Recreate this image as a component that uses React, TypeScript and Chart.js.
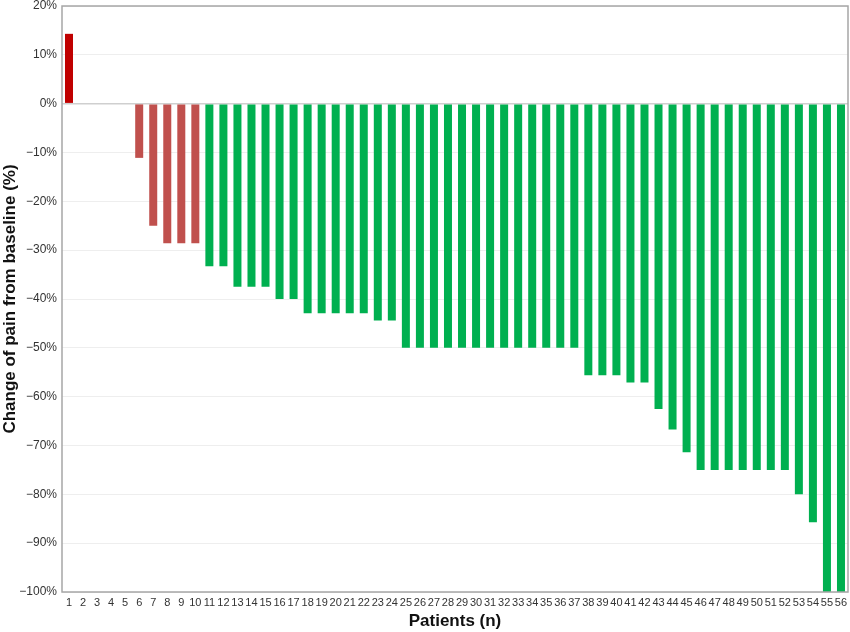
import React, { useEffect, useRef } from "react";
import { Chart, registerables } from "chart.js";

Chart.register(...registerables);

const patients: string[] = Array.from({ length: 56 }, (_, i) => String(i + 1));

const painChange: number[] = [
  14.3, 0, 0, 0, 0, -11.1, -25, -28.6, -28.6, -28.6,
  -33.3, -33.3, -37.5, -37.5, -37.5, -40, -40, -42.9, -42.9, -42.9,
  -42.9, -42.9, -44.4, -44.4, -50, -50, -50, -50, -50, -50,
  -50, -50, -50, -50, -50, -50, -50, -55.6, -55.6, -55.6,
  -57.1, -57.1, -62.5, -66.7, -71.4, -75, -75, -75, -75, -75,
  -75, -75, -80, -85.7, -100, -100,
];

const yMin = -100;
const yMax = 20;
const yStep = 10;

const colorIncrease = "#C00000";
const colorMinor = "#C0504D";
const colorResponse = "#00B050";

const barColors = painChange.map((v) =>
  v > 0 ? colorIncrease : v > -30 ? colorMinor : colorResponse
);

const frame = {
  id: "frame",
  afterDraw(chart: any) {
    const { ctx, chartArea: a } = chart;
    ctx.save();
    ctx.strokeStyle = "#a6a6a6";
    ctx.lineWidth = 1.5;
    ctx.strokeRect(a.left, a.top, a.right - a.left, a.bottom - a.top);
    ctx.restore();
  },
};

export default function App() {
  const ref = useRef<HTMLCanvasElement | null>(null);
  useEffect(() => {
    document.body.style.margin = "0";
    const chart = new Chart(ref.current as HTMLCanvasElement, {
      type: "bar",
      data: {
        labels: patients,
        datasets: [
          {
            data: painChange,
            backgroundColor: barColors,
            borderWidth: 0,
            categoryPercentage: 1,
            barPercentage: 0.57,
          },
        ],
      },
      options: {
        animation: false,
        responsive: false,
        maintainAspectRatio: false,
        layout: { padding: { top: 6, right: 2, left: 0, bottom: 0 } },
        plugins: { legend: { display: false }, tooltip: { enabled: false } },
        scales: {
          x: {
            grid: { display: false, drawTicks: false },
            border: { display: false },
            ticks: {
              autoSkip: false,
              maxRotation: 0,
              padding: 4,
              color: "#333",
              font: { family: "Liberation Sans", size: 11 },
            },
            title: {
              display: true,
              text: "Patients (n)",
              color: "#111",
              font: { family: "Liberation Sans", size: 17, weight: "bold" },
              padding: { top: 4, bottom: 0 },
            },
            afterFit(scale: any) {
              scale.height = 40;
              scale.paddingLeft = 0;
              scale.paddingRight = 0;
            },
          },
          y: {
            min: yMin,
            max: yMax,
            grid: {
              drawTicks: false,
              color: (c: any) => (c.tick && c.tick.value === 0 ? "#cfcfcf" : "#eeeeee"),
              lineWidth: (c: any) => (c.tick && c.tick.value === 0 ? 1.5 : 1),
            },
            border: { display: false },
            ticks: {
              stepSize: yStep,
              padding: 5,
              color: "#333",
              font: { family: "Liberation Sans", size: 12 },
              callback: (v: any) => (v < 0 ? "\u2212" + Math.abs(v) : String(v)) + "%",
            },
            title: {
              display: true,
              text: "Change of pain from baseline (%)",
              color: "#111",
              font: { family: "Liberation Sans", size: 17, weight: "bold" },
              padding: { top: 0, bottom: 2 },
            },
            afterFit(scale: any) {
              scale.width = 62;
              scale.paddingTop = 0;
              scale.paddingBottom = 0;
            },
          },
        },
      },
      plugins: [frame],
    });
    return () => chart.destroy();
  }, []);
  return (
    <div style={{ width: 850, height: 632 }}>
      <canvas ref={ref} width={850} height={632} />
    </div>
  );
}
